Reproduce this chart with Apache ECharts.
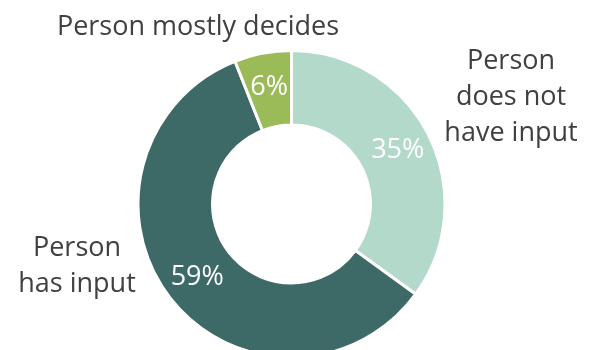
<!DOCTYPE html>
<html>
<head>
<meta charset="utf-8">
<script src="https://cdn.jsdelivr.net/npm/echarts@6/dist/echarts.min.js"></script>
<style>html,body{margin:0;padding:0;background:#fff;}#c{width:597px;height:350px;}</style>
</head>
<body>
<div id="c"></div>
<script>
var categories = ['Person does not have input', 'Person has input', 'Person mostly decides'];
var labelTexts = ['Person\ndoes not\nhave input', 'Person\nhas input', 'Person mostly decides'];
var values = [35, 59, 6];
var colors = ['#b3d9cb', '#3d6966', '#9bbb59'];

var labelAnchors = [[511, 97], [77, 266], [198, 27]];
var FONT = 'Open Sans';

var chart = echarts.init(document.getElementById('c'), null, {renderer: 'canvas'});
var ring = values.map(function (v, i) {
  return {name: categories[i], value: v, itemStyle: {color: colors[i]}};
});
var ghost = values.map(function (v, i) {
  return {name: labelTexts[i], value: v};
});
chart.setOption({
  animation: false,
  series: [
    {
      type: 'pie',
      radius: [79, 153.5],
      center: [291.5, 204],
      startAngle: 90,
      clockwise: true,
      silent: true,
      itemStyle: {borderColor: '#ffffff', borderWidth: 3},
      label: {
        show: true, position: 'inside', formatter: '{c}%',
        color: '#ffffff', fontSize: 27, fontFamily: FONT
      },
      labelLine: {show: false},
      data: ring
    },
    {
      type: 'pie',
      radius: [79, 153.5],
      center: [291.5, 204],
      startAngle: 90,
      clockwise: true,
      silent: true,
      z: 1,
      itemStyle: {color: 'rgba(0,0,0,0)', borderWidth: 0},
      label: {
        show: true, position: 'outside', formatter: '{b}',
        color: '#404040', fontSize: 27, lineHeight: 36, fontFamily: FONT, align: 'center',
        overflow: 'none', width: 400
      },
      labelLine: {show: false},
      labelLayout: function (p) {
        var a = labelAnchors[p.dataIndex];
        return {x: a[0], y: a[1], align: 'center', verticalAlign: 'middle'};
      },
      data: ghost
    }
  ]
});
</script>
</body>
</html>
